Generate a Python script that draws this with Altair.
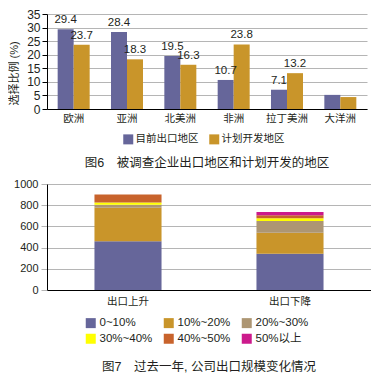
import altair as alt
import pandas as pd

FONT = "Liberation Sans, Noto Sans CJK SC"
TXT = "#231f20"

# ---- Figure 6 data ----
regions = ["欧洲", "亚洲", "北美洲", "非洲", "拉丁美洲", "大洋洲"]
series6 = ["目前出口地区", "计划开发地区"]
current = [29.4, 28.4, 19.5, 10.7, 7.1, 5.2]
planned = [23.7, 18.3, 16.3, 23.8, 13.2, 4.4]
labeled = [True, True, True, True, True, False]
colors6 = ["#66669a", "#c9952a"]

# ---- Figure 7 data ----
groups = ["出口上升", "出口下降"]
bands = ["0~10%", "10%~20%", "20%~30%", "30%~40%", "40%~50%", "50%以上"]
rise = [460, 315, 30, 20, 75, 0]
fall = [343, 197, 110, 26, 29, 31]
colors7 = ["#66669a", "#c9952a", "#ad9673", "#ffff00", "#c8632c", "#cc1a8c"]

rows6 = []
for i, r in enumerate(regions):
    rows6.append({"region": r, "series": series6[0], "value": current[i], "show": labeled[i]})
    rows6.append({"region": r, "series": series6[1], "value": planned[i], "show": labeled[i]})
df6 = pd.DataFrame(rows6)

rows7 = []
for g, vals in zip(groups, [rise, fall]):
    for j, b in enumerate(bands):
        rows7.append({"group": g, "band": b, "count": vals[j], "idx": j})
df7 = pd.DataFrame(rows7)

x6 = alt.X("region:N", sort=regions,
           scale=alt.Scale(paddingInner=0.4, paddingOuter=0.2),
           axis=alt.Axis(title=None, labelAngle=0, ticks=False, grid=False,
                         domainColor="black", labelFontSize=10.5, labelPadding=4))
xo6 = alt.XOffset("series:N", sort=series6, scale=alt.Scale(paddingInner=0, paddingOuter=0))
y6 = alt.Y("value:Q", scale=alt.Scale(domain=[0, 35]),
           axis=alt.Axis(values=list(range(0, 36, 5)), title="选择比例 (%)",
                         titleFontSize=11, titleFontWeight="normal", titleAngle=270,
                         titleX=-33, titleY=59, titleAlign="center", titleBaseline="middle",
                         labelFontSize=12, labelPadding=2, tickSize=5,
                         domainColor="black", tickColor="black",
                         gridColor="#b5b5b5"))

base6 = alt.Chart(df6)
bars6 = base6.mark_bar().encode(
    x=x6, xOffset=xo6, y=y6,
    color=alt.Color("series:N", sort=series6,
                    scale=alt.Scale(domain=series6, range=colors6),
                    legend=alt.Legend(title=None, orient="none", legendX=76, legendY=120,
                                      direction="horizontal", symbolType="square",
                                      symbolSize=100, symbolStrokeWidth=0,
                                      labelFontSize=10.5, labelOffset=2,
                                      columnPadding=10)),
)
text6 = base6.transform_filter(alt.datum.show).mark_text(
    baseline="bottom", dy=-4, fontSize=11.5, color=TXT
).encode(x=x6, xOffset=xo6, y=y6, text=alt.Text("value:Q", format=".1f"))

top = alt.layer(bars6, text6).properties(
    width=320, height=95,
    title=alt.Title("图6\u3000被调查企业出口地区和计划开发的地区", orient="bottom",
                    fontSize=12.5, fontWeight="normal", offset=12, anchor="middle"),
)

bottom = alt.Chart(df7).mark_bar().encode(
    x=alt.X("group:N", sort=groups,
            scale=alt.Scale(paddingInner=0.586, paddingOuter=0.293),
            axis=alt.Axis(title=None, labelAngle=0, ticks=False, grid=False,
                          domainColor="black", labelFontSize=10.5, labelPadding=6)),
    y=alt.Y("count:Q", stack="zero", scale=alt.Scale(domain=[0, 1000]),
            axis=alt.Axis(values=[0, 200, 400, 600, 800, 1000], title=None, format="d",
                          labelFontSize=11, labelPadding=3, tickSize=6,
                          domainColor="black", tickColor="#b5b5b5",
                          gridColor="#b5b5b5")),
    color=alt.Color("band:N", sort=bands,
                    scale=alt.Scale(domain=bands, range=colors7),
                    legend=alt.Legend(title=None, orient="none", legendX=38, legendY=133,
                                      direction="horizontal",
                                      columns=3, symbolType="square", symbolSize=100,
                                      symbolStrokeWidth=0, labelFontSize=11.5,
                                      labelOffset=3, columnPadding=10, rowPadding=3)),
    order=alt.Order("idx:Q"),
).properties(
    width=324, height=106,
    title=alt.Title("图7\u3000过去一年, 公司出口规模变化情况", orient="bottom",
                    fontSize=12.5, fontWeight="normal", offset=16, anchor="middle"),
)

chart = alt.vconcat(top, bottom, spacing=8).resolve_scale(
    color="independent"
).resolve_legend(color="independent").properties(padding=0).configure(
    font=FONT,
).configure_view(stroke=None).configure_axis(
    labelFont=FONT, titleFont=FONT, labelColor=TXT, titleColor=TXT,
).configure_legend(
    labelFont=FONT, labelColor=TXT,
).configure_title(
    font=FONT, color=TXT,
).configure_text(font=FONT)

chart.save("out.html", embed_options={"renderer": "svg", "actions": False})
